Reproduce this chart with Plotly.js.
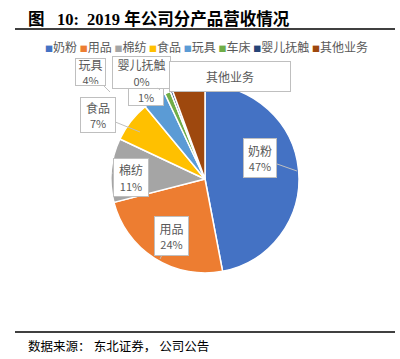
<!DOCTYPE html>
<html><head><meta charset="utf-8">
<script src="https://cdn.plot.ly/plotly-3.0.1.min.js"></script>
<style>html,body{margin:0;padding:0;background:#fff}</style>
</head><body>
<div id="chart" style="width:400px;height:359px"></div>
<script>
var categories = ['奶粉','用品','棉纺','食品','玩具','车床','婴儿抚触','其他业务'];
var values = [47, 24, 11, 7, 4, 1, 0.4, 5.6];
var colors = ['#4472C4','#ED7D31','#A5A5A5','#FFC000','#5B9BD5','#70AD47','#264478','#9E480E'];
var showPct = [true, true, true, true, true, true, true, false];

var W = 400, H = 359;
function px(x){return x/W;}
function py(y){return 1 - y/H;}

// label box layout: [tipX, tipY, boxCenterX, boxCenterY, width, height]
var boxes = [
  [297,171, 260,158, 30,36],
  [160,259, 171,236, 31,36],
  [112,173, 131,177, 32,35],
  [140,132, 98,115, 32,32],
  [110,92, 90,72, 27,24],
  [162,100, 146,97, 32,14],
  [160,90, 141,72, 55,29],
  [200,86, 230,77, 118,27]
];

var total = values.reduce(function(a,b){return a+b;},0);
var annotations = [];
categories.forEach(function(c,i){
  var b = boxes[i];
  var pct = Math.round(values[i]/total*100) + '%';
  var txt = showPct[i] ? c + '<br><span style="font-size:11px">' + pct + '</span>' : c;
  if (i === 5) txt = '<span style="font-size:11px">' + pct + '</span>';
  annotations.push({
    xref:'paper', yref:'paper', x:px(b[0]), y:py(b[1]),
    ax:b[2]-b[0], ay:b[3]-b[1], axref:'pixel', ayref:'pixel',
    showarrow:true, arrowhead:0, arrowwidth:1, arrowcolor:'#BFBFBF',
    text:txt, font:{size:12, color:'#595959', family:'Noto Sans CJK SC'},
    bgcolor:'#ffffff', bordercolor:'#BFBFBF', borderwidth:1,
    width:b[4], height:b[5], borderpad:1, align:'center', valign:'middle'
  });
});

// legend built from categories
var legText = categories.map(function(c,i){
  return '<span style="color:' + colors[i] + ';font-size:8px">■</span>' + c;
}).join(' ');
annotations.push({
  xref:'paper', yref:'paper', x:px(206), y:py(46), xanchor:'center', yanchor:'middle',
  showarrow:false, text:legText, font:{size:12, color:'#595959', family:'Noto Sans CJK SC'}
});

annotations.push({
  xref:'paper', yref:'paper', x:px(26), y:py(19), xanchor:'left', yanchor:'middle',
  showarrow:false, text:'<b>图&nbsp;&nbsp;&nbsp;10:&nbsp;&nbsp;2019 年公司分产品营收情况</b>',
  font:{size:16.5, color:'#000000', family:'Liberation Serif, Noto Sans CJK SC'}
});
annotations.push({
  xref:'paper', yref:'paper', x:px(26), y:py(346), xanchor:'left', yanchor:'middle',
  showarrow:false, text:'数据来源：&nbsp;东北证券，&nbsp;公司公告',
  font:{size:12.5, color:'#000000', family:'Liberation Serif, Noto Sans CJK SC'}
});

var trace = {
  type:'pie', labels:categories, values:values, sort:false, direction:'clockwise', rotation:0,
  marker:{colors:colors, line:{color:'#ffffff', width:1.5}},
  textinfo:'none', hoverinfo:'label+percent',
  domain:{x:[px(111), px(299)], y:[py(273), py(85)]}
};

var layout = {
  width:W, height:H, margin:{l:0,r:0,t:0,b:0},
  paper_bgcolor:'#ffffff', showlegend:false,
  annotations:annotations,
  shapes:[
    {type:'line', xref:'paper', yref:'paper', x0:px(15), x1:px(395), y0:py(29), y1:py(29), line:{color:'#404040', width:2}},
    {type:'line', xref:'paper', yref:'paper', x0:px(15), x1:px(395), y0:py(332), y1:py(332), line:{color:'#000000', width:1.5}}
  ]
};
Plotly.newPlot('chart', [trace], layout, {displayModeBar:false, staticPlot:true});
</script>
</body></html>
